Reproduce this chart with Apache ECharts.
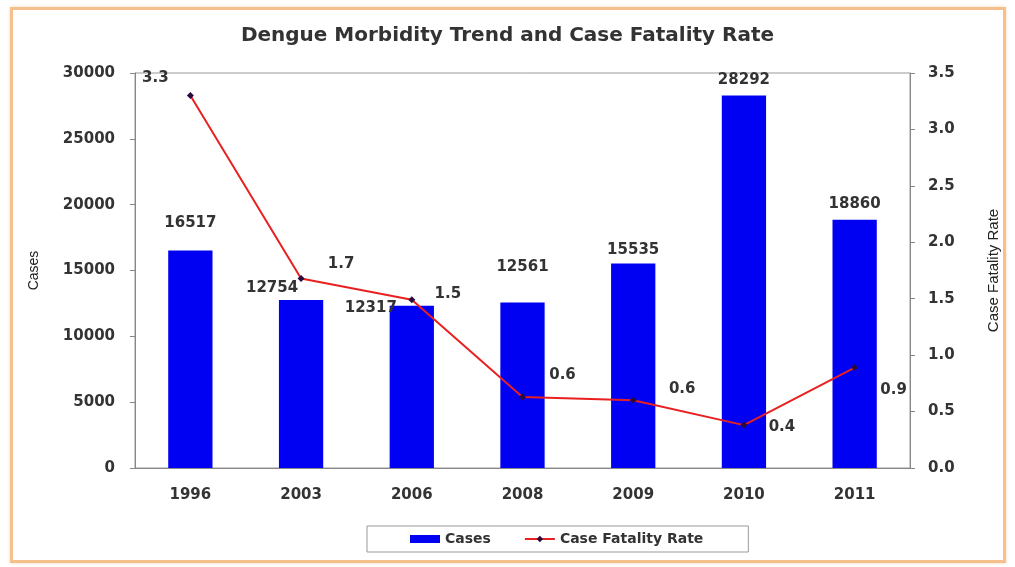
<!DOCTYPE html>
<html>
<head>
<meta charset="utf-8">
<script src="https://cdn.jsdelivr.net/npm/echarts@6/dist/echarts.min.js"></script>
<style>
  html, body { margin: 0; padding: 0; background: #fff; }
  #frame {
    position: absolute; left: 10px; top: 7px; width: 990px; height: 550px;
    border: 3px solid #f6c08c; box-shadow: 0 0 3px #f9d6b0;
  }
  #chart { position: absolute; left: 0; top: 0; width: 1015px; height: 567px; }
</style>
</head>
<body>
<div id="frame"></div>
<div id="chart"></div>
<script>
const years = ["1996", "2003", "2006", "2008", "2009", "2010", "2011"];
const cases = [16517, 12754, 12317, 12561, 15535, 28292, 18860];
const fatalityRate = [3.3, 1.68, 1.49, 0.63, 0.6, 0.38, 0.89];
const casesTicks = [0, 30000, 5000];
const rateTicks = [0, 3.5, 0.5];

const labelFont = { fontFamily: "DejaVu Sans", fontWeight: "bold", fontSize: 15, color: "#333" };

// per-point label tweaks so they sit like the original
const barOffsets = [[0, -12], [-29, 4], [-41, 18], [0, -20], [0, 2], [0, 0], [0, 0]];
const rateOffsets = [[-35, -17], [40, -14], [36, -6], [40, -22], [49, -11], [38, 2], [39, 23]];

const chart = echarts.init(document.getElementById("chart"));
chart.setOption({
  animation: false,
  title: {
    text: "Dengue Morbidity Trend and Case Fatality Rate",
    left: "center",
    top: 21,
    textStyle: { fontFamily: "DejaVu Sans", fontWeight: "bold", fontSize: 20, color: "#333" }
  },
  grid: {
    left: 135, right: 105, top: 73, bottom: 99,
    show: true, borderColor: "#999", borderWidth: 1
  },
  legend: {
    bottom: 15,
    left: 367,
    borderColor: "#999",
    borderWidth: 1,
    padding: [6, 45, 6, 43],
    itemGap: 33,
    itemWidth: 30,
    itemHeight: 8,
    textStyle: Object.assign({}, labelFont, { fontSize: 14 }),
    data: [{ name: "Cases", icon: "rect" }, "Case Fatality Rate"]
  },
  xAxis: {
    type: "category",
    data: years,
    axisLine: { lineStyle: { color: "#888" } },
    axisTick: { lineStyle: { color: "#888" }, length: 5 },
    axisLabel: Object.assign({ margin: 20 }, labelFont)
  },
  yAxis: [
    {
      type: "value",
      name: "Cases",
      nameLocation: "middle",
      nameGap: 94,
      nameRotate: 90,
      nameTextStyle: { fontFamily: "Liberation Sans", fontSize: 14, color: "#222" },
      min: casesTicks[0], max: casesTicks[1], interval: casesTicks[2],
      axisLine: { show: true, lineStyle: { color: "#888" } },
      axisTick: { show: true, lineStyle: { color: "#888" }, length: 5 },
      splitLine: { show: false },
      axisLabel: Object.assign({ margin: 20, formatter: v => String(v) }, labelFont)
    },
    {
      type: "value",
      name: "Case Fatality Rate",
      nameLocation: "middle",
      nameGap: 76,
      nameRotate: 90,
      nameTextStyle: { fontFamily: "Liberation Sans", fontSize: 15, color: "#222" },
      min: rateTicks[0], max: rateTicks[1], interval: rateTicks[2],
      axisLine: { show: true, lineStyle: { color: "#888" } },
      axisTick: { show: true, lineStyle: { color: "#888" }, length: 5 },
      splitLine: { show: false },
      axisLabel: Object.assign({ margin: 18, formatter: v => v.toFixed(1) }, labelFont)
    }
  ],
  series: [
    {
      name: "Cases",
      type: "bar",
      barWidth: "40%",
      itemStyle: { color: "#0000f2" },
      data: cases.map((v, i) => ({
        value: v,
        label: { show: true, position: "top", distance: 8, offset: barOffsets[i] }
      })),
      label: labelFont
    },
    {
      name: "Case Fatality Rate",
      type: "line",
      yAxisIndex: 1,
      symbol: "diamond",
      symbolSize: 7,
      itemStyle: { color: "#2b0a3d" },
      lineStyle: { color: "#e82020", width: 2 },
      z: 5,
      data: fatalityRate.map((v, i) => ({
        value: v,
        label: { show: true, position: "inside", offset: rateOffsets[i] }
      })),
      label: Object.assign({ formatter: p => p.value.toFixed(1) }, labelFont)
    }
  ]
});
</script>
</body>
</html>
